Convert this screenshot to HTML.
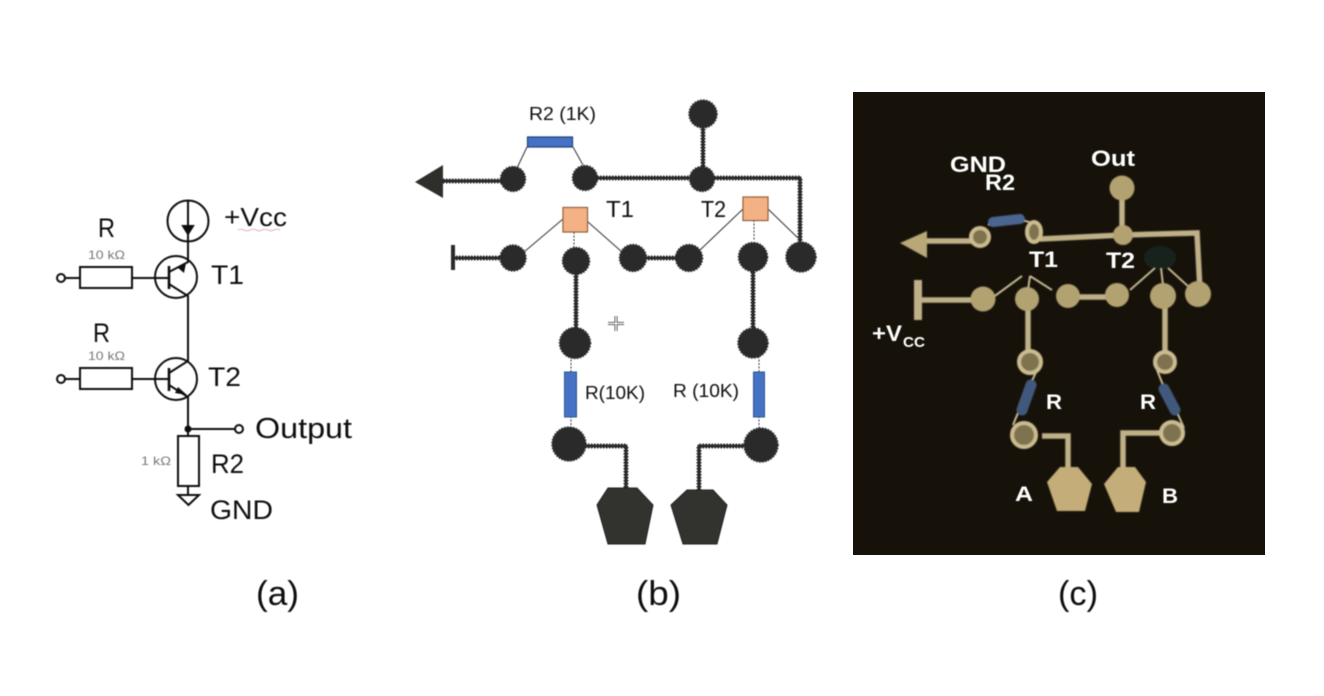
<!DOCTYPE html>
<html><head><meta charset="utf-8"><style>
html,body{margin:0;padding:0;background:#fff;width:1324px;height:696px;overflow:hidden}
svg{display:block}
text{font-family:"Liberation Sans",sans-serif}
</style></head><body>
<svg width="1324" height="696" viewBox="0 0 1324 696" xmlns="http://www.w3.org/2000/svg">
<defs>
<filter id="s"><feGaussianBlur stdDeviation="0.5"/></filter>
<filter id="w"><feGaussianBlur stdDeviation="0.9"/></filter>
</defs>
<rect width="1324" height="696" fill="#fff"/>

<!-- (a) -->
<g filter="url(#s)" fill="none" stroke="#111" stroke-width="2">
<circle cx="188" cy="221" r="20.5"/>
<circle cx="176" cy="277" r="21"/>
<circle cx="176" cy="379" r="21"/>
<path d="M188 200V262L169 272M169 284L188 296V361L169 373M169 385L188 397V436"/>
<path d="M169 266V289M169 368V391" stroke-width="2.600"/>
<path d="M65 278H80M132 278H169M65 379H80M132 379H169M188 429H235M188 486V495"/>
<rect x="80" y="267" width="52" height="21"/>
<rect x="80" y="368" width="52" height="21"/>
<rect x="178" y="436" width="21" height="50"/>
<circle cx="61" cy="278" r="4"/>
<circle cx="61" cy="379" r="4"/>
<circle cx="239" cy="429" r="4"/>
<path d="M178 495H199L188.500 505Z"/>
<path d="M183 226H193L188 234Z" fill="#111"/>
<path d="M177 267L186 263L184 273Z" fill="#111" stroke="none"/>
<path d="M178 387L187 395L175 393Z" fill="#111" stroke="none"/>
<circle cx="188" cy="429" r="2.500" fill="#111"/>
<path d="M238 230q3 -1.500 6 0t6 0t6 0t6 0t6 0t6 0t6 0" stroke="#e4b4b4" stroke-width="1"/>
</g>
<g filter="url(#s)" fill="#111">
<text x="98" y="237" font-size="27" textLength="17" lengthAdjust="spacingAndGlyphs">R</text>
<text x="93" y="342" font-size="27" textLength="17" lengthAdjust="spacingAndGlyphs">R</text>
<text x="88" y="259" font-size="12" fill="#777" textLength="37" lengthAdjust="spacingAndGlyphs">10 kΩ</text>
<text x="88" y="360" font-size="12" fill="#777" textLength="37" lengthAdjust="spacingAndGlyphs">10 kΩ</text>
<text x="141" y="465" font-size="12" fill="#777" textLength="30" lengthAdjust="spacingAndGlyphs">1 kΩ</text>
<text x="224" y="226" font-size="26" textLength="63" lengthAdjust="spacingAndGlyphs">+Vcc</text>
<text x="211" y="284" font-size="27" textLength="33" lengthAdjust="spacingAndGlyphs">T1</text>
<text x="208" y="386" font-size="27" textLength="33" lengthAdjust="spacingAndGlyphs">T2</text>
<text x="211" y="473" font-size="27" textLength="33" lengthAdjust="spacingAndGlyphs">R2</text>
<text x="210" y="519" font-size="27" textLength="63" lengthAdjust="spacingAndGlyphs">GND</text>
<text x="255" y="438" font-size="29" textLength="97" lengthAdjust="spacingAndGlyphs">Output</text>
</g>

<!-- (b) -->
<g filter="url(#s)">
<g fill="none" stroke="#2b2b2b">
<g stroke-width="3">
<path d="M440 181H513M585 178H800V245M703 114V179M453 258H513M633 258H689M576 261V343M753 257V343M570 446H626V490M761 446H699V492"/>
</g>
<g stroke-width="5" stroke-dasharray="1.500 1.500">
<path d="M440 181H513M585 178H800V245M703 114V179M453 258H513M633 258H689M576 261V343M753 257V343M570 446H626V490M761 446H699V492"/>
</g>
<path d="M453 245V270" stroke-width="4"/>
</g>
<g fill="none" stroke="#333" stroke-width="1">
<path d="M527 147L517 168M573 147L583 165M563 219L524 252M588 222L622 252M743 209L700 250M768 209L798 238"/>
<path d="M574 232V250M754 220V240M571 356V374M759 356V374M571 416V430M759 416V430" stroke-dasharray="2 1.500"/>
</g>
<path d="M415 182L443 165V198Z" fill="#2e2e2c"/>
<g fill="#2b2b2a" stroke="#2b2b2a" stroke-width="1.500" stroke-dasharray="1.500 1.500">
<circle cx="513" cy="179" r="12.500"/><circle cx="585" cy="178" r="12.500"/><circle cx="703" cy="114" r="14"/><circle cx="702" cy="179" r="12.500"/>
<circle cx="513" cy="258" r="13"/><circle cx="576" cy="261" r="13.500"/><circle cx="633" cy="258" r="13.500"/><circle cx="689" cy="258" r="13.500"/><circle cx="753" cy="257" r="14.500"/><circle cx="801" cy="257" r="15"/>
<circle cx="575" cy="343" r="15.500"/><circle cx="753" cy="343" r="15"/><circle cx="569" cy="444" r="17"/><circle cx="761" cy="445" r="17"/>
</g>
<path d="M608 488H637L653 505L645 544H608L597 505Z" fill="#30332e" stroke="#222" stroke-width="1"/>
<path d="M687 490H713L727 505L717 544H683L671 505Z" fill="#30332e" stroke="#222" stroke-width="1"/>
<rect x="527.500" y="137" width="45" height="10" fill="#4472c4" stroke="#1f3f73" stroke-width="1.200"/>
<rect x="564.500" y="372" width="12" height="45" fill="#4472c4" stroke="#2f528f"/>
<rect x="753.500" y="372" width="11" height="45" fill="#4472c4" stroke="#2f528f"/>
<rect x="563" y="207.500" width="24.500" height="24.500" fill="#f4b183" stroke="#8a5a30" stroke-width="1.200"/>
<rect x="743" y="197" width="25" height="23.500" fill="#f4b183" stroke="#8a5a30" stroke-width="1.200"/>
<path d="M616 316V331M608 323.500H624" stroke="#333" stroke-width="3"/>
<path d="M616 316V331M608 323.500H624" stroke="#fff" stroke-width="1"/>
</g>
<g filter="url(#s)" fill="#111">
<text x="529" y="120" font-size="18" textLength="67" lengthAdjust="spacingAndGlyphs">R2 (1K)</text>
<text x="606" y="217" font-size="23" textLength="28" lengthAdjust="spacingAndGlyphs">T1</text>
<text x="701" y="217" font-size="23" textLength="25" lengthAdjust="spacingAndGlyphs">T2</text>
<text x="585" y="399" font-size="18" textLength="60" lengthAdjust="spacingAndGlyphs">R(10K)</text>
<text x="673" y="397" font-size="18" textLength="66" lengthAdjust="spacingAndGlyphs">R (10K)</text>
</g>

<!-- (c) -->
<rect x="853" y="92" width="412" height="463" fill="#16120a"/>
<ellipse cx="1160" cy="258" rx="16" ry="12" fill="#18201a" filter="url(#w)"/>
<g filter="url(#w)">
<g fill="none" stroke="#bfb088" stroke-width="5.500">
<path d="M925 241H975M1040 239L1123 235L1197 233L1200 290M1122 190V235M920 300H983M1068 297H1117M1028 298V360M1165 295V360M1042 436H1068V475M1166 433H1123V475"/>
<path d="M918 280V320" stroke-width="8"/>
</g>
<g fill="none" stroke="#d8cca0" stroke-width="1.800">
<path d="M988 225L998 221M1020 221Q1032 220 1034 228M992 298L1022 276M1030 276L1052 290M1030 276L1028 290M1130 290L1155 268M1161 268L1163 285M1168 268L1190 288M1038 368L1030 385M1020 408L1013 425M1157 370L1163 385M1176 410L1184 428"/>
</g>
<path d="M900 243L927 231V258Z" fill="#b8a878"/>
<g fill="#b3a271">
<circle cx="1122" cy="188" r="12.500"/><circle cx="1123" cy="235" r="10"/><circle cx="983" cy="299" r="12.500"/><circle cx="1027" cy="299" r="12"/><circle cx="1068" cy="296" r="12"/><circle cx="1117" cy="295" r="12"/><circle cx="1163" cy="296" r="13"/><circle cx="1198" cy="294" r="13"/>
</g>
<g fill="#7f7350" stroke="#cbbc90" stroke-width="4">
<circle cx="980" cy="237" r="9"/><ellipse cx="1034" cy="232" rx="7" ry="10"/>
<circle cx="1030" cy="362" r="11"/><circle cx="1165" cy="362" r="10"/><circle cx="1024" cy="435" r="12"/><circle cx="1172" cy="433" r="11"/>
</g>
<path d="M1060 467H1078L1092 484L1085 511H1057L1047 482Z" fill="#c4ad78"/>
<path d="M1118 467H1135L1146 482L1139 512H1116L1104 484Z" fill="#c4ad78"/>
<path d="M993 222L1020 219" stroke="#4a6590" stroke-width="10" stroke-linecap="round"/>
<path d="M1022 410L1031 385" stroke="#40587c" stroke-width="11" stroke-linecap="round"/>
<path d="M1164 389L1175 410" stroke="#40587c" stroke-width="11" stroke-linecap="round"/>
</g>
<g fill="#fff" font-weight="bold" filter="url(#s)">
<text x="950" y="172" font-size="22" textLength="56" lengthAdjust="spacingAndGlyphs">GND</text>
<text x="985" y="190" font-size="22" textLength="30" lengthAdjust="spacingAndGlyphs">R2</text>
<text x="1091" y="166" font-size="22" textLength="44" lengthAdjust="spacingAndGlyphs">Out</text>
<text x="1029" y="267" font-size="22" textLength="29" lengthAdjust="spacingAndGlyphs">T1</text>
<text x="1106" y="268" font-size="22" textLength="29" lengthAdjust="spacingAndGlyphs">T2</text>
<text x="872" y="341" font-size="22" textLength="30" lengthAdjust="spacingAndGlyphs">+V</text>
<text x="903" y="347" font-size="15" textLength="22" lengthAdjust="spacingAndGlyphs">CC</text>
<text x="1046" y="409" font-size="21" textLength="16" lengthAdjust="spacingAndGlyphs">R</text>
<text x="1140" y="409" font-size="21" textLength="16" lengthAdjust="spacingAndGlyphs">R</text>
<text x="1015" y="501" font-size="21" textLength="18" lengthAdjust="spacingAndGlyphs">A</text>
<text x="1162" y="503" font-size="21" textLength="16" lengthAdjust="spacingAndGlyphs">B</text>
</g>

<!-- captions -->
<g fill="#111" font-size="34" filter="url(#s)">
<text x="256" y="605" textLength="43" lengthAdjust="spacingAndGlyphs">(a)</text>
<text x="636" y="605" textLength="45" lengthAdjust="spacingAndGlyphs">(b)</text>
<text x="1058" y="605" textLength="40" lengthAdjust="spacingAndGlyphs">(c)</text>
</g>
</svg>
</body></html>
